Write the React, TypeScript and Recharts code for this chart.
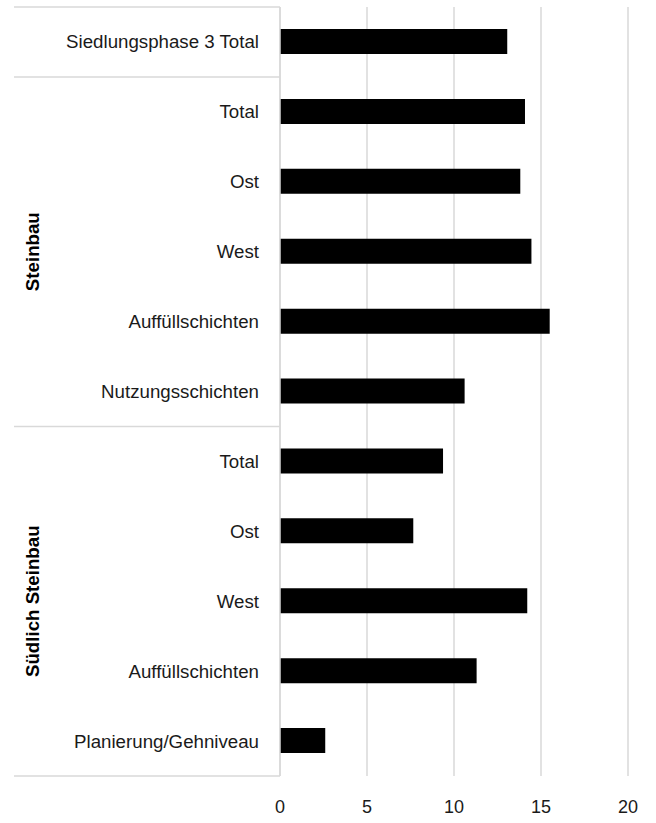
import React from "react";
import { BarChart, Bar, XAxis, YAxis, CartesianGrid } from "recharts";

// Kategorien von oben nach unten
const labels = [
  "Siedlungsphase 3 Total",
  "Total",
  "Ost",
  "West",
  "Auffüllschichten",
  "Nutzungsschichten",
  "Total",
  "Ost",
  "West",
  "Auffüllschichten",
  "Planierung/Gehniveau",
];
const groups = ["", "Steinbau", "Steinbau", "Steinbau", "Steinbau", "Steinbau",
  "Südlich Steinbau", "Südlich Steinbau", "Südlich Steinbau", "Südlich Steinbau", "Südlich Steinbau"];
const values = [13.06, 14.08, 13.81, 14.45, 15.5, 10.61, 9.37, 7.66, 14.21, 11.3, 2.6];
const xTicks = [0, 5, 10, 15, 20];

const data = labels.map((label, i) => ({
  id: `c${i}`,
  label,
  group: groups[i],
  value: values[i],
}));

const FONT = "'Liberation Sans', Arial, sans-serif";
const GRID = "#d9d9d9";
const W = 656;
const H = 823;
const TOP = 7;
const BOTTOM = 47;
const BAND = (H - TOP - BOTTOM) / labels.length;

function CategoryTick(props: any) {
  const { y, index } = props;
  const d = data[index];
  const isGroupStart = index === 0 || d.group !== data[index - 1].group;
  const isLast = index === data.length - 1;
  // Gruppenlabel beim mittleren Eintrag der Gruppe
  const members = data.filter((r) => r.group === d.group && r.group !== "");
  const mid = members.length ? members[Math.floor(members.length / 2)].id : null;
  return (
    <g>
      <text
        x={259}
        y={y}
        textAnchor="end"
        dominantBaseline="central"
        fontSize={18.7}
        fontFamily={FONT}
        fill="#1a1a1a"
      >
        {d.label}
      </text>
      {isGroupStart && (
        <line x1={14} x2={280} y1={y - BAND / 2} y2={y - BAND / 2} stroke={GRID} strokeWidth={1.5} />
      )}
      {isLast && (
        <line x1={14} x2={280} y1={y + BAND / 2} y2={y + BAND / 2} stroke={GRID} strokeWidth={1.5} />
      )}
      {mid === d.id && (
        <text
          x={33}
          y={y}
          transform={`rotate(-90 33 ${y})`}
          textAnchor="middle"
          dominantBaseline="central"
          fontSize={18.7}
          fontWeight="bold"
          fontFamily={FONT}
          fill="#000"
        >
          {d.group}
        </text>
      )}
    </g>
  );
}

export default function App() {
  return (
    <div style={{ position: "absolute", left: 0, top: 0, background: "#fff" }}>
      <BarChart
        width={W}
        height={H}
        data={data}
        layout="vertical"
        margin={{ top: TOP, right: 28, left: 0, bottom: 0 }}
      >
        <CartesianGrid horizontal={false} stroke={GRID} strokeWidth={1.5} />
        <XAxis
          type="number"
          domain={[0, 20]}
          ticks={xTicks}
          axisLine={false}
          tickLine={false}
          height={BOTTOM}
          tickMargin={18}
          tick={{ fontSize: 18, fontFamily: FONT, fill: "#1a1a1a" }}
        />
        <YAxis
          type="category"
          dataKey="id"
          width={280}
          axisLine={{ stroke: GRID, strokeWidth: 1.5 }}
          tickLine={false}
          interval={0}
          tick={<CategoryTick />}
        />
        <Bar dataKey="value" fill="#000" barSize={25} isAnimationActive={false} />
      </BarChart>
    </div>
  );
}
